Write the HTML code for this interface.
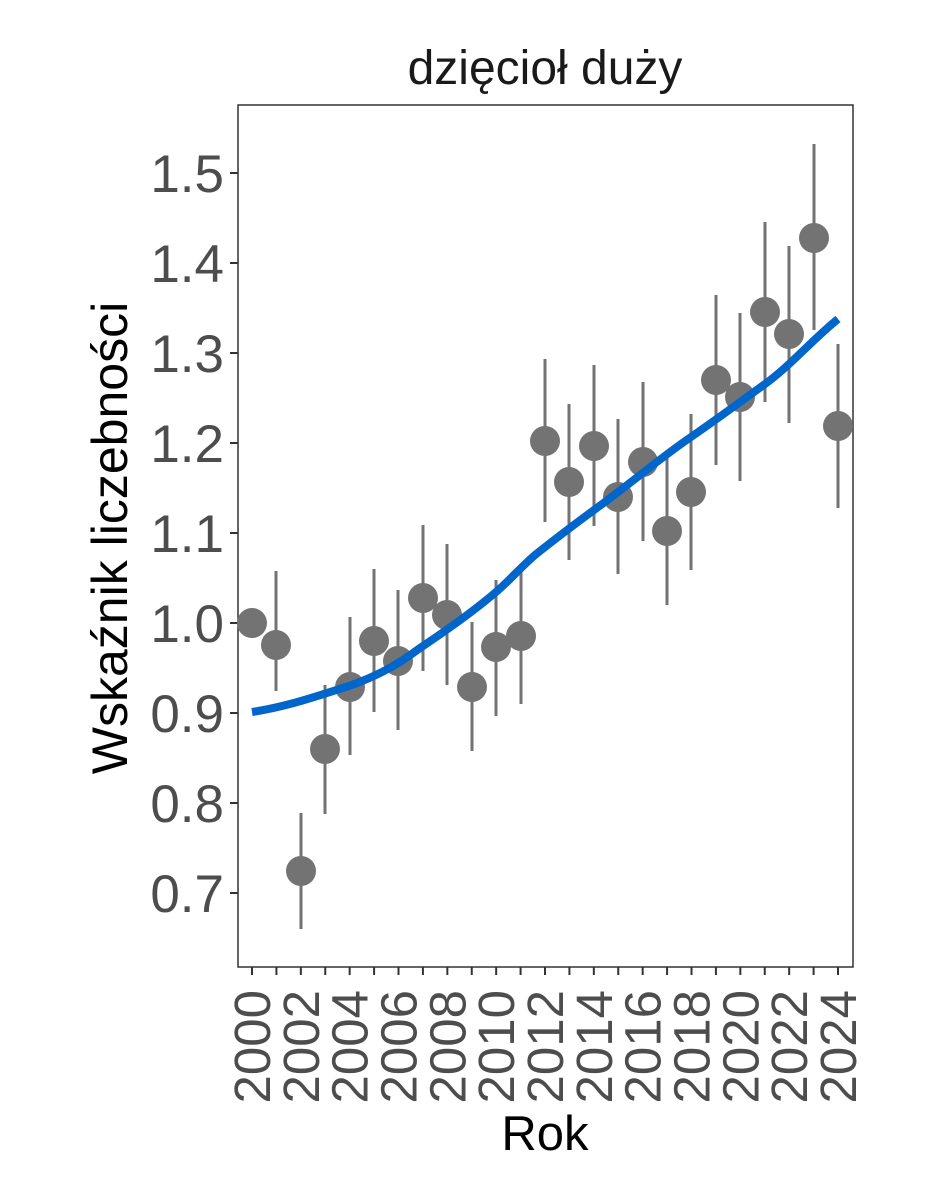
<!DOCTYPE html>
<html><head><style>body{margin:0;background:#fff}svg{display:block}</style></head><body>
<svg width="944" height="1181" xmlns="http://www.w3.org/2000/svg" font-family="Liberation Sans, sans-serif">
<rect width="944" height="1181" fill="#fff"/>
<text x="545" y="84" font-size="48" text-anchor="middle" fill="#1a1a1a">dzięcioł duży</text>
<rect x="238" y="105" width="615" height="862" fill="none" stroke="#333" stroke-width="1.5"/>
<g stroke="#333" stroke-width="2">
<line x1="230" y1="173" x2="238" y2="173"/><line x1="230" y1="263" x2="238" y2="263"/><line x1="230" y1="353" x2="238" y2="353"/><line x1="230" y1="443" x2="238" y2="443"/><line x1="230" y1="533" x2="238" y2="533"/><line x1="230" y1="623" x2="238" y2="623"/><line x1="230" y1="713" x2="238" y2="713"/><line x1="230" y1="803" x2="238" y2="803"/><line x1="230" y1="893" x2="238" y2="893"/>
</g>
<g font-size="53" fill="#4d4d4d" text-anchor="end">
<text x="224" y="192">1.5</text><text x="224" y="282">1.4</text><text x="224" y="372">1.3</text><text x="224" y="462">1.2</text><text x="224" y="552">1.1</text><text x="224" y="642">1.0</text><text x="224" y="732">0.9</text><text x="224" y="822">0.8</text><text x="224" y="912">0.7</text>
</g>
<g id="xt" stroke="#333" stroke-width="2"></g>
<g stroke="#737373" stroke-width="3">
<line x1="276" y1="571" x2="276" y2="691"/><line x1="301" y1="813" x2="301" y2="929"/><line x1="325" y1="685" x2="325" y2="814"/><line x1="350" y1="617" x2="350" y2="755"/><line x1="374" y1="569" x2="374" y2="712"/><line x1="398" y1="590" x2="398" y2="730"/><line x1="423" y1="525" x2="423" y2="671"/><line x1="447" y1="544" x2="447" y2="685"/><line x1="472" y1="622" x2="472" y2="751"/><line x1="496" y1="580" x2="496" y2="716"/><line x1="521" y1="570" x2="521" y2="704"/><line x1="545" y1="359" x2="545" y2="522"/><line x1="569" y1="404" x2="569" y2="560"/><line x1="594" y1="365" x2="594" y2="526"/><line x1="618" y1="419" x2="618" y2="574"/><line x1="643" y1="382" x2="643" y2="541"/><line x1="667" y1="455" x2="667" y2="605"/><line x1="691" y1="414" x2="691" y2="570"/><line x1="716" y1="295" x2="716" y2="465"/><line x1="740" y1="313" x2="740" y2="481"/><line x1="765" y1="222" x2="765" y2="402"/><line x1="789" y1="246" x2="789" y2="423"/><line x1="814" y1="144" x2="814" y2="330"/><line x1="838" y1="344" x2="838" y2="508"/>
</g>
<g fill="#737373">
<circle cx="252" cy="623" r="15"/><circle cx="276" cy="645" r="15"/><circle cx="301" cy="871" r="15"/><circle cx="325" cy="749" r="15"/><circle cx="350" cy="687" r="15"/><circle cx="374" cy="641" r="15"/><circle cx="398" cy="661" r="15"/><circle cx="423" cy="598" r="15"/><circle cx="447" cy="615" r="15"/><circle cx="472" cy="687" r="15"/><circle cx="496" cy="647" r="15"/><circle cx="521" cy="636" r="15"/><circle cx="545" cy="441" r="15"/><circle cx="569" cy="482" r="15"/><circle cx="594" cy="446" r="15"/><circle cx="618" cy="497" r="15"/><circle cx="643" cy="462" r="15"/><circle cx="667" cy="531" r="15"/><circle cx="691" cy="492" r="15"/><circle cx="716" cy="380" r="15"/><circle cx="740" cy="397" r="15"/><circle cx="765" cy="312" r="15"/><circle cx="789" cy="334" r="15"/><circle cx="814" cy="238" r="15"/><circle cx="838" cy="426" r="15"/>
</g>
<path d="M252,712 C290,706 320,695 349,686 C380,675 400,663 420,648 C450,628 475,610 496,592 C510,580 520,568 535,555 C560,535 575,524 594,510 C630,484 660,458 691,437 C720,417 740,402 765,384 C790,366 812,340 838,319" fill="none" stroke="#0066CC" stroke-width="8"/>
<g font-size="51" fill="#4d4d4d" id="xl"></g>
<text x="545" y="1150" font-size="49" text-anchor="middle" fill="#000">Rok</text>
<text transform="translate(127,538) rotate(-90)" font-size="50" text-anchor="middle" fill="#000">Wskaźnik liczebności</text>
<script>
var xt=document.getElementById('xt'),xl=document.getElementById('xl'),ns='http://www.w3.org/2000/svg';
for(var y=2000;y<=2024;y++){var x=252+(y-2000)*586/24;var l=document.createElementNS(ns,'line');l.setAttribute('x1',x);l.setAttribute('x2',x);l.setAttribute('y1',967);l.setAttribute('y2',975);xt.appendChild(l);
if(y%2==0){var t=document.createElementNS(ns,'text');t.setAttribute('transform','translate('+(x+18)+',990) rotate(-90)');t.setAttribute('text-anchor','end');t.textContent=y;xl.appendChild(t);}}
</script>
</svg></body></html>
